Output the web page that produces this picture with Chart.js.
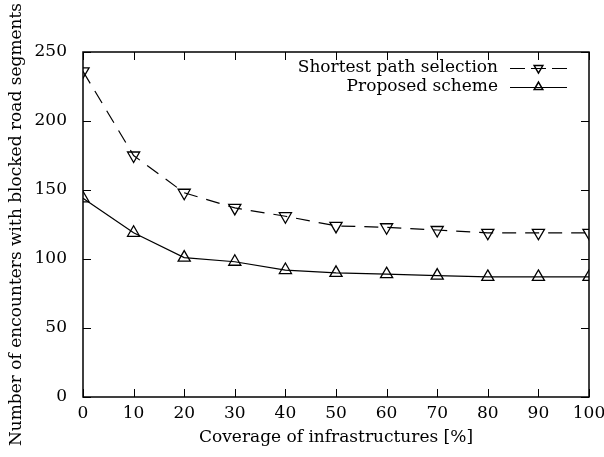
<!DOCTYPE html>
<html>
<head>
<meta charset="utf-8">
<script src="https://cdn.jsdelivr.net/npm/chart.js@4"></script>
<style>
  html, body { margin: 0; padding: 0; background: #fff; }
  #wrap { width: 604px; height: 457px; }
</style>
</head>
<body>
<div id="wrap"><canvas id="mycanvas" width="604" height="457"></canvas></div>
<script>
var coverage = [0, 10, 20, 30, 40, 50, 60, 70, 80, 90, 100];
var shortestPath = [236, 175, 148, 137, 131, 124, 123, 121, 119, 119, 119];
var proposed = [144, 119, 101, 98, 92, 90, 89, 88, 87, 87, 87];
var seriesNames = ["Shortest path selection", "Proposed scheme"];
var xTicks = [0, 10, 20, 30, 40, 50, 60, 70, 80, 90, 100];
var yTicks = [0, 50, 100, 150, 200, 250];

var FONT = "'DejaVu Serif', serif";
var FS = 17;
Chart.defaults.font.family = FONT;

// inward ticks on all four sides + legend inside the frame, gnuplot style
var framePlugin = {
	id: 'frame',
	afterDraw: function(chart) {
		var ctx = chart.ctx;
		var a = chart.chartArea;
		var xs = chart.scales.x, ys = chart.scales.y;
		ctx.save();
		ctx.strokeStyle = '#000';
		ctx.lineWidth = 1;
		ctx.beginPath();
		xTicks.forEach(function(v) {
			var px = Math.round(xs.getPixelForValue(v)) + 0.5;
			ctx.moveTo(px, a.bottom); ctx.lineTo(px, a.bottom - 8);
			ctx.moveTo(px, a.top); ctx.lineTo(px, a.top + 8);
		});
		yTicks.forEach(function(v) {
			var py = Math.round(ys.getPixelForValue(v)) + 0.5;
			ctx.moveTo(a.left, py); ctx.lineTo(a.left + 8, py);
			ctx.moveTo(a.right, py); ctx.lineTo(a.right - 8, py);
		});
		ctx.stroke();
		ctx.lineWidth = 1.5;
		ctx.strokeRect(a.left, a.top, a.right - a.left, a.bottom - a.top);

		// legend
		ctx.font = FS + 'px ' + FONT;
		ctx.fillStyle = '#000';
		ctx.textAlign = 'right';
		ctx.textBaseline = 'middle';
		var textRight = a.right - 91;
		var lineL = a.right - 79, lineR = a.right - 22;
		chart.data.datasets.forEach(function(ds, i) {
			var y = a.top + 16 + i * 19;
			ctx.fillStyle = '#000';
			ctx.fillText(ds.label, textRight, y);
			ctx.save();
			ctx.lineWidth = 1.2;
			ctx.setLineDash(ds.borderDash ? [15, 6] : []);
			ctx.beginPath();
			ctx.moveTo(lineL, y + 0.5); ctx.lineTo(lineR, y + 0.5);
			ctx.stroke();
			ctx.restore();
			ctx.fillStyle = 'rgba(0,0,0,0)';
			Chart.helpers.drawPoint(ctx, {
				pointStyle: 'triangle', rotation: ds.pointRotation || 0,
				radius: 5, borderWidth: 1.3
			}, (lineL + lineR) / 2, y);
		});
		ctx.restore();
	}
};

var chartdata = {
	labels: coverage,
	datasets: [
		{
			label: seriesNames[0],
			data: shortestPath,
			borderColor: '#000',
			backgroundColor: 'rgba(0,0,0,0)',
			borderWidth: 1.2,
			borderDash: [14, 9],
			pointStyle: 'triangle',
			pointRotation: 180,
			pointRadius: 7,
			pointBorderWidth: 1.3,
			lineTension: 0
		},
		{
			label: seriesNames[1],
			data: proposed,
			borderColor: '#000',
			backgroundColor: 'rgba(0,0,0,0)',
			borderWidth: 1.2,
			pointStyle: 'triangle',
			pointRadius: 7,
			pointBorderWidth: 1.3,
			lineTension: 0
		}
	]
};

var ctx = document.getElementById('mycanvas');
var LineGraph = new Chart(ctx, {
	type: 'line',
	data: {
		datasets: chartdata.datasets.map(function(ds) {
			return Object.assign({}, ds, {
				data: ds.data.map(function(v, i) { return { x: coverage[i], y: v }; })
			});
		})
	},
	options: {
		responsive: false,
		animation: false,
		devicePixelRatio: 1,
		layout: { padding: { left: 6, right: 15, top: 52, bottom: 0 } },
		plugins: { legend: { display: false }, tooltip: { enabled: false } },
		scales: {
			x: {
				type: 'linear', min: 0, max: 100,
				afterBuildTicks: function(s) { s.ticks = xTicks.map(function(v) { return { value: v }; }); },
				afterFit: function(s) { s.height = 60; s.paddingLeft = 0; s.paddingRight = 0; },
				grid: { display: false, drawTicks: false },
				border: { display: false },
				ticks: { color: '#000', font: { family: FONT, size: FS }, padding: 6, maxRotation: 0 },
				title: { display: true, text: 'Coverage of infrastructures [%]', color: '#000',
					font: { family: FONT, size: FS }, padding: { top: 0, bottom: 9 } }
			},
			y: {
				min: 0, max: 250,
				afterBuildTicks: function(s) { s.ticks = yTicks.map(function(v) { return { value: v }; }); },
				afterFit: function(s) { s.width = 77; s.paddingTop = 0; s.paddingBottom = 0; },
				grid: { display: false },
				border: { display: false },
				ticks: { color: '#000', font: { family: FONT, size: FS }, padding: 8 },
				title: { display: true, text: 'Number of encounters with blocked road segments', color: '#000',
					font: { family: FONT, size: FS }, padding: { top: 0, bottom: 6 } }
			}
		}
	},
	plugins: [framePlugin]
});
</script>
</body>
</html>
